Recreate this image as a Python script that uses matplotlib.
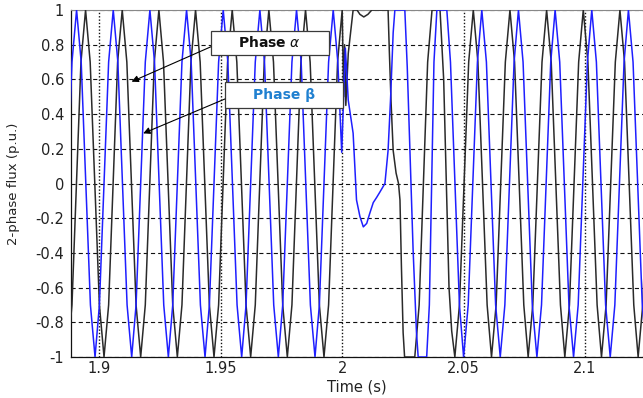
import matplotlib
matplotlib.use('Agg')
import matplotlib.pyplot as plt
from matplotlib.patches import Rectangle

plt.rcParams['font.family'] = ['DejaVu Sans']
plt.rcParams['axes.unicode_minus'] = False
plt.rcParams['lines.scale_dashes'] = False

# ---------------- data ----------------
x_ticks = [1.9, 1.95, 2.0, 2.05, 2.1]
x_tick_labels = ['1.9', '1.95', '2', '2.05', '2.1']
y_ticks = [-1, -0.8, -0.6, -0.4, -0.2, 0, 0.2, 0.4, 0.6, 0.8, 1]
y_tick_labels = ['-1', '-0.8', '-0.6', '-0.4', '-0.2', '0', '0.2', '0.4', '0.6', '0.8', '1']

# Phase alpha (black) waveform vertices
alpha_t = [1.8868, 1.8887, 1.8924, 1.8943, 1.8962, 1.9000, 1.9019, 1.9038, 1.9075, 1.9094,
           1.9113, 1.9151, 1.9170, 1.9189, 1.9226, 1.9245, 1.9264, 1.9302, 1.9321, 1.9340,
           1.9377, 1.9396, 1.9415, 1.9453, 1.9472, 1.9491, 1.9528, 1.9547, 1.9566, 1.9604,
           1.9623, 1.9642, 1.9679, 1.9698, 1.9717, 1.9755, 1.9774, 1.9793, 1.9830, 1.9849,
           1.9868, 1.9906, 1.9925, 1.9944, 1.9981, 2.0000, 2.0006, 2.0010, 2.0015, 2.0025,
           2.0045, 2.0061, 2.0073, 2.0089, 2.0106, 2.0122, 2.0189, 2.0194, 2.0201, 2.0210,
           2.0222, 2.0232, 2.0238, 2.0244, 2.0251, 2.0257, 2.0299, 2.0317, 2.0352, 2.0370,
           2.0403, 2.0418, 2.0440, 2.0451, 2.0464, 2.0483, 2.0521, 2.0540, 2.0559, 2.0597,
           2.0615, 2.0634, 2.0672, 2.0691, 2.0710, 2.0748, 2.0766, 2.0785, 2.0823, 2.0842,
           2.0861, 2.0899, 2.0917, 2.0936, 2.0974, 2.0993, 2.1012, 2.1050, 2.1068, 2.1087,
           2.1125, 2.1144, 2.1163, 2.1201, 2.1219, 2.1238, 2.1276]
alpha_v = [-1, -0.7, 0.7, 1, 0.7, -0.7, -1, -0.7, 0.7, 1,
           0.7, -0.7, -1, -0.7, 0.7, 1, 0.7, -0.7, -1, -0.7,
           0.7, 1, 0.7, -0.7, -1, -0.7, 0.7, 1, 0.7, -0.7,
           -1, -0.7, 0.7, 1, 0.7, -0.7, -1, -0.7, 0.7, 1,
           0.7, -0.7, -1, -0.7, 0.7, 1, 0.5, 0.8, 0.45, 0.75,
           1, 1, 0.975, 0.96, 0.975, 1, 1, 0.77, 0.48, 0.19,
           0.06, 0.0, -0.095, -0.48, -0.86, -1, -1, -0.7, 0.7, 1,
           1, 0.6, -0.6, -0.85, -1, -0.7, 0.7, 1, 0.7, -0.7,
           -1, -0.7, 0.7, 1, 0.7, -0.7, -1, -0.7, 0.7, 1,
           0.7, -0.7, -1, -0.7, 0.7, 1, 0.7, -0.7, -1, -0.7,
           0.7, 1, 0.7, -0.7, -1, -0.7, 0.7]

# Phase beta (blue) waveform vertices
beta_t = [1.8831, 1.8849, 1.8887, 1.8906, 1.8925, 1.8963, 1.8982, 1.9000, 1.9038, 1.9057,
          1.9076, 1.9114, 1.9133, 1.9151, 1.9189, 1.9208, 1.9227, 1.9265, 1.9284, 1.9302,
          1.9340, 1.9359, 1.9378, 1.9416, 1.9435, 1.9453, 1.9491, 1.9510, 1.9529, 1.9567,
          1.9586, 1.9604, 1.9642, 1.9661, 1.9680, 1.9718, 1.9737, 1.9755, 1.9793, 1.9812,
          1.9831, 1.9869, 1.9888, 1.9906, 1.9944, 1.9963, 1.9982, 1.9998, 2.0013, 2.0025,
          2.0045, 2.0052, 2.0059, 2.0073, 2.0087, 2.0101, 2.0114, 2.0128, 2.0142, 2.0155,
          2.0176, 2.0189, 2.0199, 2.0210, 2.0217, 2.0258, 2.0268, 2.0279, 2.0292, 2.0306,
          2.0313, 2.0348, 2.0359, 2.0378, 2.0390, 2.0431, 2.0446, 2.0483, 2.0500, 2.0519,
          2.0557, 2.0575, 2.0594, 2.0632, 2.0651, 2.0670, 2.0708, 2.0726, 2.0745, 2.0783,
          2.0802, 2.0821, 2.0859, 2.0877, 2.0896, 2.0934, 2.0953, 2.0972, 2.1010, 2.1028,
          2.1047, 2.1085, 2.1104, 2.1123, 2.1161, 2.1179, 2.1198, 2.1236, 2.1255]
beta_v = [-1, -0.7, 0.7, 1, 0.7, -0.7, -1, -0.7, 0.7, 1,
          0.7, -0.7, -1, -0.7, 0.7, 1, 0.7, -0.7, -1, -0.7,
          0.7, 1, 0.7, -0.7, -1, -0.7, 0.7, 1, 0.7, -0.7,
          -1, -0.7, 0.7, 1, 0.7, -0.7, -1, -0.7, 0.7, 1,
          0.7, -0.7, -1, -0.7, 0.7, 1, 0.7, 0.18, 0.78, 0.48,
          0.29, 0.10, -0.095, -0.19, -0.25, -0.23, -0.17, -0.11, -0.08, -0.05,
          0.0, 0.19, 0.48, 0.87, 1, 1, 0.67, 0.19, -0.38, -0.86,
          -1, -1, -0.7, 0.7, 1, 1, 0.7, -0.7, -1, -0.7,
          0.7, 1, 0.7, -0.7, -1, -0.7, 0.7, 1, 0.7, -0.7,
          -1, -0.7, 0.7, 1, 0.7, -0.7, -1, -0.7, 0.7, 1,
          0.7, -0.7, -1, -0.7, 0.7, 1, 0.7, -0.7, -1]

label_alpha = 'Phase $\\alpha$'
label_beta = 'Phase \u03b2'

# ---------------- figure ----------------
fig = plt.figure(figsize=(6.43, 3.98), dpi=100)
ax = fig.add_axes([71 / 643, 41 / 398, 572 / 643, 347 / 398])

ax.plot(alpha_t, alpha_v, color='#2a2a2a', lw=1.1, zorder=3)
ax.plot(beta_t, beta_v, color='#1f1fff', lw=1.1, zorder=3)

ax.set_xlim(1.8883, 2.1239)
ax.set_ylim(-1, 1)
ax.set_xticks(x_ticks)
ax.set_xticklabels(x_tick_labels)
ax.set_yticks(y_ticks)
ax.set_yticklabels(y_tick_labels)
ax.tick_params(axis='y', length=0, pad=5, labelsize=10.5, labelcolor='#222222')
ax.tick_params(axis='x', length=0, pad=3, labelsize=10.5, labelcolor='#222222')

ax.set_axisbelow(True)
ax.yaxis.grid(True, color='#111111', lw=0.8, linestyle=(0, (3, 2.2)))
ax.xaxis.grid(True, color='#111111', lw=1.0, linestyle=(0, (1, 1.4)))

for s in ['left', 'bottom']:
    ax.spines[s].set_color('#111111')
    ax.spines[s].set_linewidth(0.9)
ax.spines['top'].set_color('#888888')
ax.spines['top'].set_linewidth(0.8)
ax.spines['right'].set_visible(False)

ax.set_xlabel('Time (s)', fontsize=10.5, color='#222222')
ax.xaxis.set_label_coords(0.5, -0.066)
ax.set_ylabel('2-phase flux (p.u.)', fontsize=9.5, color='#222222')
ax.yaxis.set_label_coords(-0.090, 0.5)

# annotation boxes
ax.add_patch(Rectangle((1.9459, 0.7404), 0.0486, 0.1412, facecolor='white',
                       edgecolor='#3a3a3a', lw=0.9, zorder=6))
ax.text(1.97022, 0.811, label_alpha, ha='center', va='center', fontsize=10,
        fontweight='bold', color='#111111', zorder=7)
ax.add_patch(Rectangle((1.9517, 0.434), 0.0486, 0.1499, facecolor='white',
                       edgecolor='#3a3a3a', lw=0.9, zorder=6))
ax.text(1.97599, 0.509, label_beta, ha='center', va='center', fontsize=10,
        fontweight='bold', color='#2080d0', zorder=7)

arrow_kw = dict(arrowstyle='-|>', color='black', lw=0.8, mutation_scale=10,
                shrinkA=0, shrinkB=0)
ax.annotate('', xy=(1.91326, 0.587), xytext=(1.94592, 0.788),
            arrowprops=arrow_kw, zorder=8)
ax.annotate('', xy=(1.91804, 0.289), xytext=(1.95169, 0.487),
            arrowprops=arrow_kw, zorder=8)

fig.savefig('out.png', dpi=100)
